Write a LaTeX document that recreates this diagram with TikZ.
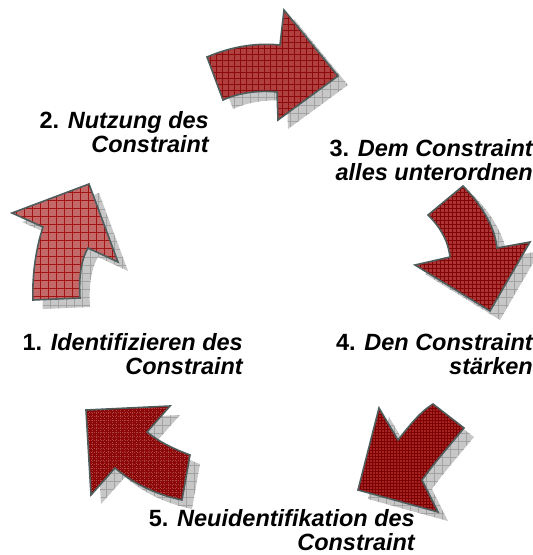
\documentclass[tikz,border=0pt]{standalone}
\usepackage{fontspec}
\setmainfont{Liberation Sans}
\newcommand\gridpat[2]{\foreach \g in {0,#1,...,560}{\draw[#2] (\g,0) -- (\g,560); \draw[#2] (0,\g) -- (560,\g);}}
\begin{document}
\begin{tikzpicture}[x=1pt,y=-1pt,
  shadefill/.style={fill=black!22},
  shadegrid/.style={draw=black!36,line width=0.5pt},
  outl/.style={draw={rgb,255:red,78;green,92;blue,92},line width=1.6pt,line join=miter},
  lbl/.style={align=right,anchor=north east,inner sep=0pt,font=\fontsize{23.5}{24}\selectfont\bfseries\itshape},
]
\useasboundingbox (0,0) rectangle (533,555);
\def\arrA{(207,57) .. controls (235,45) and (260,43) .. (280,45) -- (284,10) -- (338,76) -- (278,120) -- (277,92) .. controls (258,90) and (238,93) .. (223,100) -- cycle}
\def\arrB{(463,186) .. controls (480,203) and (495,226) .. (497,248) -- (530,242) -- (490,311) -- (415,265) -- (450,257) .. controls (448,240) and (440,227) .. (428,215) -- cycle}
\def\arrC{(358,490) -- (379,408) -- (398,440) .. controls (410,425) and (420,412) .. (433,404) -- (464,428) .. controls (450,445) and (435,462) .. (422,480) -- (438,512) -- cycle}
\def\arrD{(86,410) -- (170,406) -- (147,432) .. controls (162,444) and (177,450) .. (190,455) -- (182,500) .. controls (158,495) and (135,485) .. (115,468) -- (91,495) -- cycle}
\def\arrE{(89,184) -- (118,262) -- (88,248) .. controls (80,262) and (79,280) .. (80,298) -- (33,300) .. controls (32,275) and (36,248) .. (43,227) -- (12,213) -- cycle}
% shadows
\foreach \p in {\arrA,\arrB,\arrC,\arrD,\arrE}{
  \begin{scope}[shift={(10,9)}]
    \fill[shadefill] \p;
    \begin{scope}\clip \p; \gridpat{8}{shadegrid} \end{scope}
  \end{scope}
}
% arrow 1 (top)
\fill[fill={rgb,255:red,176;green,64;blue,64}] \arrA;
\begin{scope}\clip \arrA; \gridpat{6}{draw={rgb,255:red,140;green,10;blue,10},line width=0.6pt} \end{scope}
\draw[outl] \arrA;
% arrow 2 (right)
\fill[fill={rgb,255:red,172;green,52;blue,52}] \arrB;
\begin{scope}\clip \arrB; \gridpat{4}{draw={rgb,255:red,130;green,5;blue,5},line width=0.5pt} \end{scope}
\draw[outl] \arrB;
% arrow 3 (bottom right)
\fill[fill={rgb,255:red,165;green,35;blue,35}] \arrC;
\begin{scope}\clip \arrC; \gridpat{3}{draw={rgb,255:red,125;green,0;blue,0},line width=0.45pt} \end{scope}
\draw[outl] \arrC;
% arrow 4 (bottom left)
\fill[fill={rgb,255:red,140;green,8;blue,8}] \arrD;
\begin{scope}\clip \arrD; \gridpat{4}{draw={rgb,255:red,175;green,70;blue,70},line width=0.4pt,dotted} \end{scope}
\draw[outl] \arrD;
% arrow 5 (left)
\fill[fill={rgb,255:red,196;green,104;blue,104}] \arrE;
\begin{scope}\clip \arrE; \gridpat{8}{draw={rgb,255:red,160;green,20;blue,20},line width=0.6pt} \end{scope}
\draw[outl] \arrE;
% labels
\node[lbl] (l1) at (243,333) {{\upshape 1.} Identifizieren des\\Constraint};
\node[lbl] (l2) at (209,111) {{\upshape 2.} Nutzung des\\Constraint};
\node[lbl] (l3) at (533,139) {{\upshape 3.} Dem Constraint\\alles unterordnen};
\node[lbl] (l4) at (533,333) {{\upshape 4.} Den Constraint\\stärken};
\node[lbl] (l5) at (415,509) {{\upshape 5.} Neuidentifikation des\\Constraint};
\end{tikzpicture}
\end{document}
